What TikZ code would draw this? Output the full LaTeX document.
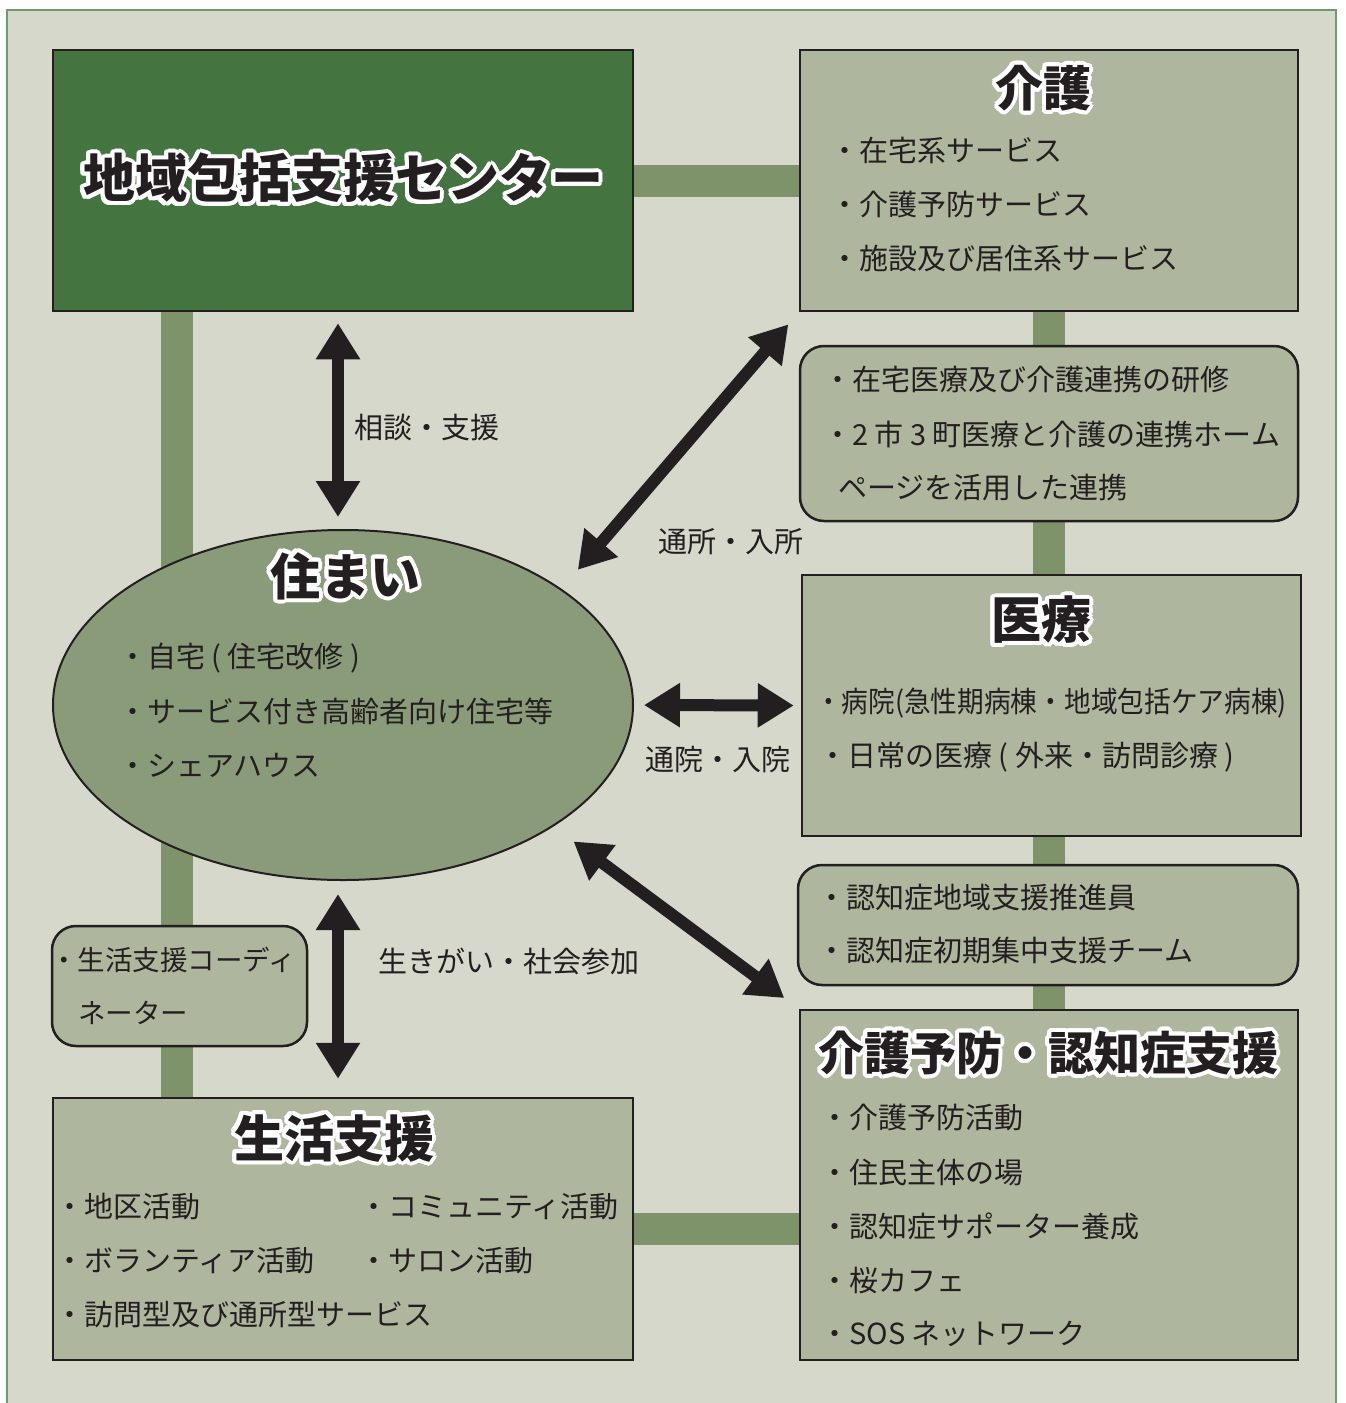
\documentclass[tikz,border=0pt]{standalone}
\usepackage{fontspec}
\setmainfont{Noto Sans CJK JP}
\usepackage{xcolor}
\usepackage{graphicx}
\usepackage{contour}
\usepackage{tikz}
\usetikzlibrary{shapes,arrows.meta,positioning,backgrounds}
\contourlength{4pt}
\contournumber{20}
\definecolor{paper}{HTML}{D5D8CA}
\definecolor{frame}{HTML}{6E9A6E}
\definecolor{centergreen}{HTML}{44743F}
\definecolor{boxgreen}{HTML}{AEB69E}
\definecolor{homegreen}{HTML}{8A9B79}
\definecolor{linkgreen}{HTML}{7E936A}
\definecolor{ink}{HTML}{231F20}

\begin{document}
\begin{tikzpicture}[x=1pt,y=-1pt]
    \tikzstyle{box}=[rectangle,draw=ink,line width=2.5pt,fill=boxgreen,inner sep=0pt]
    \tikzstyle{roundbox}=[box,rounded corners=24pt]
    \tikzstyle{title}=[inner sep=0pt,text=ink,font=\fontsize{50}{50}\selectfont\bfseries]
    \tikzstyle{entry}=[anchor=west,inner sep=0pt,text=ink,font=\fontsize{29}{29}\selectfont]
    \tikzstyle{link}=[draw=linkgreen,line width=32pt]
    \tikzstyle{dblarrow}=[{Triangle[width=42pt,length=36pt]}-{Triangle[width=42pt,length=36pt]},draw=ink,line width=12pt]

    \useasboundingbox (0,0) rectangle (1345,1403);

    % Draw the boxes
    \node[box,fill=centergreen,minimum width=580pt,minimum height=261pt] (center) at (343,180.5) {};
    \node[box,minimum width=498pt,minimum height=261pt] (kaigo) at (1049,180.5) {};
    \node[roundbox,minimum width=498pt,minimum height=175pt] (renkei) at (1049,433.5) {};
    \node[box,minimum width=499pt,minimum height=261pt] (iryo) at (1051.5,705.5) {};
    \node[roundbox,minimum width=500pt,minimum height=120pt] (suishin) at (1048,925) {};
    \node[box,minimum width=498pt,minimum height=350pt] (yobo) at (1049,1185) {};
    \node[ellipse,draw=ink,line width=2pt,fill=homegreen,minimum width=580pt,minimum height=350pt,inner sep=0pt] (home) at (343,705) {};
    \node[roundbox,minimum width=255pt,minimum height=120pt] (coord) at (179.5,986) {};
    \node[box,minimum width=580pt,minimum height=262pt] (seikatsu) at (343,1229) {};

    % Frame and green links behind everything
    \begin{pgfonlayer}{background}
        \draw[draw=frame,line width=1.5pt,fill=paper] (7,10) rectangle (1336,1420);
        \coordinate (barleft) at (176.5,0);
        \draw[link] (center.east) -- (kaigo.west);
        \draw[link] (center.south -| barleft) -- (seikatsu.north -| barleft);
        \draw[link] (kaigo.south) -- (yobo.north);
        \draw[link] (seikatsu.east) -- (yobo.west |- seikatsu.east);
    \end{pgfonlayer}

    % Titles
    \node[title,font=\fontsize{52}{52}\selectfont\bfseries] (center-t) at (343,180) {\contour{white}{地域包括支援センター}};
    \node[title,font=\fontsize{48}{48}\selectfont\bfseries] (kaigo-t) at (1043,90) {\contour{white}{介護}};
    \node[title] (iryo-t) at (1041,622) {\contour{white}{医療}};
    \node[title] (home-t) at (345,578) {\contour{white}{住まい}};
    \node[title] (seikatsu-t) at (334,1140) {\contour{white}{生活支援}};
    \node[title,font=\fontsize{46}{46}\selectfont\bfseries] (yobo-t) at (1048,1055) {\contour{white}{介護予防・認知症支援}};

    % Items of each box
    \foreach \name / \y / \word in {1/150/在宅系サービス,2/204/介護予防サービス,3/258/施設及び居住系サービス}
        \node[entry] (kaigo-\name) at (830,\y) {・\word};

    \node[entry] (renkei-1) at (823,380) {・在宅医療及び介護連携の研修};
    \node[entry] (renkei-2) at (823,434) {・2 市 3 町医療と介護の連携ホーム};
    \node[entry] (renkei-3) at (838,488) {ページを活用した連携};

    \node[entry] (iryo-1) at (815,703) {\scalebox{0.92}[1]{・病院(急性期病棟・地域包括ケア病棟)}};
    \node[entry] (iryo-2) at (818,757) {・日常の医療 ( 外来・訪問診療 )};

    \foreach \name / \y / \word in {1/897/認知症地域支援推進員,2/950/認知症初期集中支援チーム}
        \node[entry] (suishin-\name) at (817,\y) {・\word};

    \foreach \name / \y / \word in {1/1118/介護予防活動,2/1172/住民主体の場,3/1226/認知症サポーター養成,4/1280/桜カフェ,5/1334/SOS ネットワーク}
        \node[entry] (yobo-\name) at (820,\y) {・\word};

    \foreach \name / \y / \word in {1/658/自宅 ( 住宅改修 ),2/711/サービス付き高齢者向け住宅等,3/765/シェアハウス}
        \node[entry] (home-\name) at (118,\y) {・\word};

    \node[entry,font=\fontsize{27.5}{27.5}\selectfont] (coord-1) at (50,960) {・生活支援コーディ};
    \node[entry,font=\fontsize{27.5}{27.5}\selectfont] (coord-2) at (78,1013) {ネーター};

    \foreach \name / \y / \word in {1/1207/地区活動,2/1261/ボランティア活動,3/1315/訪問型及び通所型サービス}
        \node[entry] (seikatsu-\name) at (55,\y) {・\word};
    \foreach \name / \y / \word in {4/1207/コミュニティ活動,5/1261/サロン活動}
        \node[entry] (seikatsu-\name) at (359,\y) {・\word};

    % Arrows between the boxes and the home
    \coordinate (axis) at (338,0);
    \draw[dblarrow,shorten <=11pt,shorten >=12pt] (center.south -| axis) -- (home.north -| axis);
    \draw[dblarrow,shorten <=25pt,shorten >=16pt] (home.28) -- (kaigo.south west);
    \draw[dblarrow,shorten <=10pt,shorten >=7pt] (home.east) -- (iryo.west);
    \draw[dblarrow,shorten <=25pt,shorten >=18pt] (home.-30) -- (yobo.north west);
    \draw[dblarrow,shorten <=13pt,shorten >=18pt] (home.south -| axis) -- (seikatsu.north -| axis);

    % Labels of the arrows
    \node[entry] (soudan) at (354,428) {相談・支援};
    \node[entry] (tsusho) at (658,542) {通所・入所};
    \node[entry] (tsuin) at (645,760) {通院・入院};
    \node[entry] (ikigai) at (378,961) {生きがい・社会参加};

\end{tikzpicture}
\end{document}
